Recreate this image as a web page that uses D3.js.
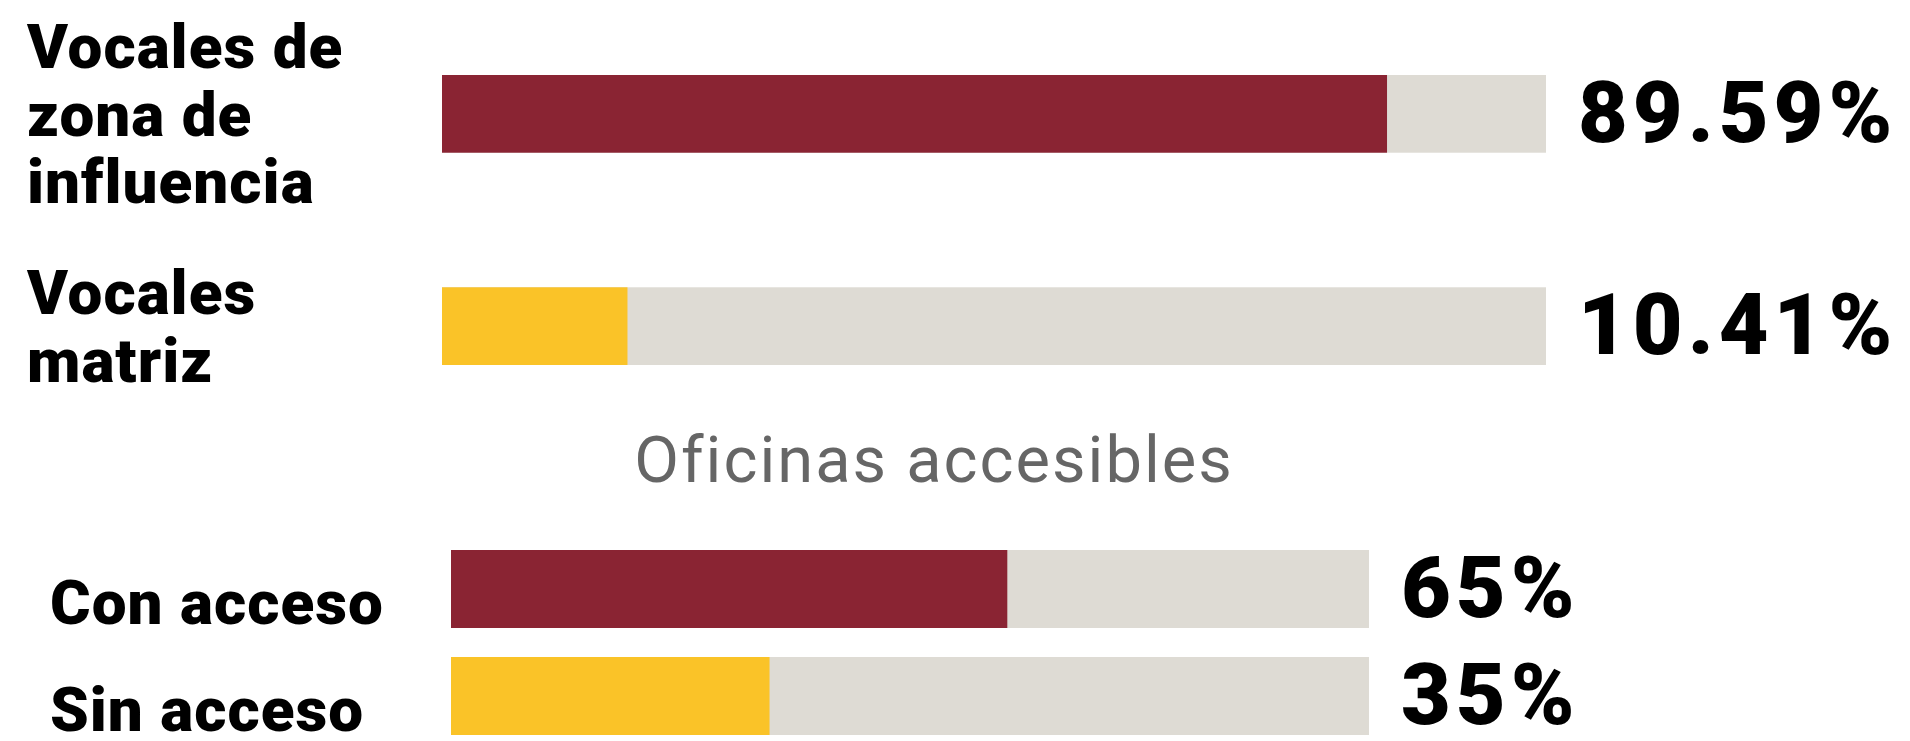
<!DOCTYPE html>
<html>
<head>
<meta charset="utf-8">
<script src="https://cdn.jsdelivr.net/npm/d3@7"></script>
<style>
  html, body { margin: 0; padding: 0; background: #fff; }
  svg { display: block; }
</style>
</head>
<body>
<div id="chart"></div>
<script>
// categories (label lines) and the group each row belongs to
const labelLines = [
  ["Vocales de", "zona de", "influencia"],
  ["Vocales", "matriz"],
  ["Con acceso"],
  ["Sin acceso"],
]
const rowGroup = ["vocales", "vocales", "oficinas", "oficinas"]
// printed values
const valueLabels = ["89.59%", "10.41%", "65%", "35%"]
// filled part of each bar, as drawn in the picture (% of track)
const barFill = [85.6, 16.8, 60.6, 34.7]
const subtitle = "Oficinas accesibles"

const W = 1910, H = 741
const colors = ["#8a2433", "#fac328", "#8a2433", "#fac328"]
const trackColor = "#dedbd4"
const labelFont = "Roboto, 'DejaVu Sans', sans-serif"

const rows = labelLines.map((lines, i) => ({
  id: i, lines, group: rowGroup[i], value: barFill[i], label: valueLabels[i], color: colors[i]
}))

const svg = d3.select("#chart").append("svg")
  .attr("width", W).attr("height", H)

// each block has its own scales
const blocks = {
  vocales: {
    x: d3.scaleLinear().domain([0, 100]).range([442, 1546]),
    y: d3.scaleBand().range([75, 365]).paddingInner(0.634),
    labelShift: 0,
  },
  oficinas: {
    x: d3.scaleLinear().domain([0, 100]).range([451, 1369]),
    y: d3.scaleBand().range([550, 735]).paddingInner(0.271),
    labelShift: 13,
  },
}
Object.entries(blocks).forEach(([k, b]) => {
  b.y.domain(rows.filter(r => r.group === k).map(r => r.id))
})

const lineH = 67.5

const row = svg.selectAll(".row")
  .data(rows)
  .enter()
  .append("g")
  .attr("class", "row")

// track
row.append("rect")
  .attr("x", d => blocks[d.group].x(0))
  .attr("y", d => blocks[d.group].y(d.id))
  .attr("width", d => blocks[d.group].x(100) - blocks[d.group].x(0))
  .attr("height", d => blocks[d.group].y.bandwidth())
  .attr("fill", trackColor)

// filled part
row.append("rect")
  .attr("x", d => blocks[d.group].x(0))
  .attr("y", d => blocks[d.group].y(d.id))
  .attr("width", d => blocks[d.group].x(d.value) - blocks[d.group].x(0))
  .attr("height", d => blocks[d.group].y.bandwidth())
  .attr("fill", d => d.color)

// value text
row.append("text")
  .text(d => d.label)
  .attr("x", d => blocks[d.group].x(100) + 32)
  .attr("y", d => blocks[d.group].y(d.id) + blocks[d.group].y.bandwidth() / 2 + 28)
  .attr("font-family", labelFont)
  .attr("font-weight", 900)
  .attr("font-size", 86)
  .attr("letter-spacing", 5)
  .attr("fill", "#000")

// category labels
row.append("text")
  .attr("font-family", labelFont)
  .attr("font-weight", 900)
  .attr("font-size", 62)
  .attr("letter-spacing", 1)
  .attr("fill", "#000")
  .each(function (d) {
    const b = blocks[d.group]
    const mid = b.y(d.id) + b.y.bandwidth() / 2 + b.labelShift
    const first = mid - (d.lines.length - 1) / 2 * lineH + 22
    d3.select(this).selectAll("tspan")
      .data(d.lines)
      .enter()
      .append("tspan")
      .attr("x", d.group === "vocales" ? 27 : 50)
      .attr("y", (l, i) => first + i * lineH)
      .text(l => l)
  })

// subtitle between the two blocks
svg.append("text")
  .text(subtitle)
  .attr("x", 934)
  .attr("y", 482)
  .attr("text-anchor", "middle")
  .attr("font-family", labelFont)
  .attr("font-size", 65)
  .attr("letter-spacing", 2)
  .attr("fill", "#666666")
</script>
</body>
</html>
